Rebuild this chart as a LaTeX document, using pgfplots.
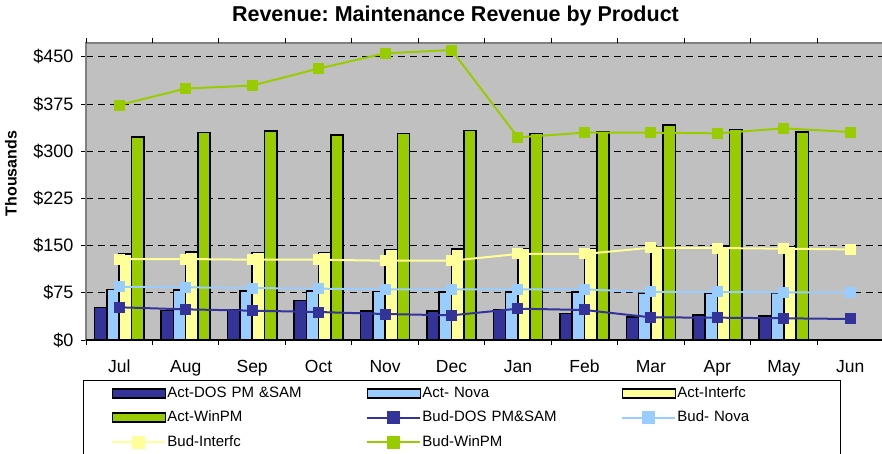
\documentclass[border=0pt]{standalone}
\usepackage{pgfplots}
\pgfplotsset{compat=1.18}
\usepackage{fontspec}
\setmainfont{Liberation Sans}
\definecolor{dosc}{HTML}{333399}
\definecolor{novac}{HTML}{99CCFF}
\definecolor{intc}{HTML}{FFFF99}
\definecolor{winc}{HTML}{99CC00}
\definecolor{bgc}{HTML}{C0C0C0}
\pgfplotsset{
  barleg/.style 2 args={legend image code/.code={\path (-#2,0pt); \draw[fill=#1, draw=black, line width=1.6pt] (0pt,-4.5pt) rectangle (53pt,4.5pt);}},
  linleg/.style 2 args={legend image code/.code={\path (-#2,0pt); \draw[draw=#1, line width=2pt] (0pt,0pt) -- (53pt,0pt); \fill[#1] (21pt,-5.5pt) rectangle (32pt,5.5pt);}},
  actbar/.style 2 args={ybar, bar width=0.185, bar shift=#2, fill=#1, draw=black, line width=1.6pt},
  budline/.style={color=#1, line width=2pt, mark=square*, mark size=5pt, mark options={solid, fill=#1, draw=#1, line width=1pt}},
}
\begin{document}
\frenchspacing
\begin{tikzpicture}
\useasboundingbox (0pt,0pt) rectangle (882pt,453pt);
\begin{axis}[
  at={(86pt,113pt)}, anchor=south west,
  scale only axis, width=797.5pt, height=297pt,
  xmin=-0.5, xmax=11.5, ymin=0, ymax=472,
  axis background/.style={fill=bgc},
  axis line style={draw=black!50, line width=1.5pt},
  /pgf/number format/assume math mode=true,
  ytick={0,75,...,450},
  yticklabel={\$\pgfmathprintnumber{\tick}},
  yticklabel style={font=\fontsize{18}{20}\selectfont, xshift=1pt},
  xtick={0,...,11},
  xticklabels={Jul,Aug,Sep,Oct,Nov,Dec,Jan,Feb,Mar,Apr,May,Jun},
  xticklabel style={font=\fontsize{17.5}{20}\selectfont, yshift=-6pt, text height=12.8pt, text depth=3.7pt},
  xtick style={draw=none},
  extra x ticks={-0.5,0.5,...,11.5},
  extra x tick labels={},
  extra x tick style={xtick style={draw=black}, major tick length=5pt, grid=none},
  tick align=outside,
  major tick length=10pt,
  tick style={black, line width=1pt},
  ytick style={xshift=5pt},
  ymajorgrids,
  major grid style={black, dash pattern=on 7pt off 5pt, line width=0.8pt},
  title={Revenue: Maintenance Revenue by Product},
  title style={at={(axis description cs:0.4633,1.0529)}, anchor=base, font=\bfseries\fontsize{21.5}{24}\selectfont},
  ylabel={Thousands},
  ylabel style={at={(axis description cs:-0.0869,0.5606)}, anchor=base, font=\bfseries\fontsize{16}{18}\selectfont},
  legend columns=3,
  legend cell align=left,
  legend style={at={(axis description cs:-0.0038,-0.133)}, anchor=north west, draw=black, line width=1pt, fill=white,
    font=\fontsize{15}{17}\selectfont, inner xsep=2pt, inner ysep=5pt, row sep=8pt,
    /tikz/every even column/.append style={column sep=38pt},
    nodes={text width=160pt, inner xsep=1pt, inner ysep=1pt, text height=11pt, text depth=3.5pt}},
]
\addplot[actbar={dosc}{-0.2775}, barleg={dosc}{26pt}] coordinates {
(0,51.4) (1,47.2) (2,48.7) (3,62.5) (4,46) (5,46) (6,47.7) (7,42.4) (8,37) (9,39.7) (10,38.1)};
\addlegendentry{Act-DOS PM \&SAM}
\addplot[actbar={novac}{-0.0925}, barleg={novac}{0pt}] coordinates {
(0,80) (1,79) (2,77.9) (3,78) (4,77.3) (5,76.3) (6,76.3) (7,76.3) (8,74.2) (9,74.2) (10,74.2)};
\addlegendentry{Act- Nova}
\addplot[actbar={intc}{0.0925}, barleg={intc}{0pt}] coordinates {
(0,136.7) (1,140.3) (2,139.3) (3,139) (4,144) (5,145) (6,145.7) (7,145.7) (8,148.3) (9,148.3) (10,148.3)};
\addlegendentry{Act-Interfc}
\addplot[actbar={winc}{0.2775}, barleg={winc}{26pt}] coordinates {
(0,322.6) (1,330) (2,332) (3,325.7) (4,328.4) (5,333) (6,328) (7,331) (8,341.6) (9,334.8) (10,331)};
\addlegendentry{Act-WinPM}
\addplot[budline=dosc, linleg={dosc}{0pt}] coordinates {
(0,52) (1,48.7) (2,46.6) (3,44.5) (4,41.3) (5,39.2) (6,49.8) (7,47.7) (8,36) (9,35.5) (10,34.5) (11,33.4)};
\addlegendentry{Bud-DOS PM\&SAM}
\addplot[budline=novac, linleg={novac}{0pt}] coordinates {
(0,84.7) (1,83.7) (2,82.6) (3,81.6) (4,80.5) (5,80.5) (6,80.5) (7,80.5) (8,76.3) (9,76.3) (10,75.8) (11,75.8)};
\addlegendentry{Bud- Nova}
\addplot[budline=intc, linleg={intc}{26pt}] coordinates {
(0,128.7) (1,128.7) (2,127.6) (3,127.6) (4,126) (5,126) (6,136.7) (7,136.7) (8,146.7) (9,146.2) (10,145.1) (11,144)};
\addlegendentry{Bud-Interfc}
\addplot[budline=winc, linleg={winc}{0pt}] coordinates {
(0,373.4) (1,399.6) (2,404.4) (3,431.4) (4,455.6) (5,460.8) (6,322) (7,329.5) (8,329.5) (9,328.4) (10,336.4) (11,330.5)};
\addlegendentry{Bud-WinPM}
\draw[black, line width=1.5pt] (rel axis cs:0,0) -- (rel axis cs:1,0);
\end{axis}
\end{tikzpicture}
\end{document}
